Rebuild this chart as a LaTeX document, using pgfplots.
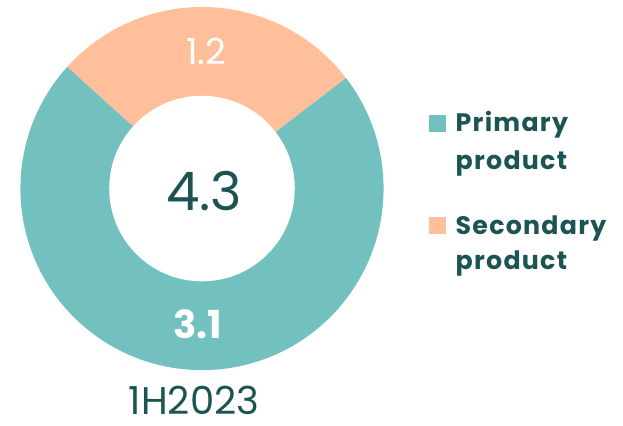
\documentclass[border=0pt]{standalone}
\usepackage{pgfplots}
\usepackage{pgfplotstable}
\pgfplotsset{compat=1.18}
\usepackage{fontspec}
\setmainfont{Poppins}
\newfontfamily\legfont{Poppins}[LetterSpace=5]
\definecolor{teal1}{HTML}{72C1BF}
\definecolor{peach}{HTML}{FFBF9B}
\definecolor{darktxt}{HTML}{1B5453}
\pgfplotstableread{
name value
Primary 3.1
Secondary 1.2
}\donutdata
\begin{document}
\begin{tikzpicture}
\pgfplotstablegetelem{0}{value}\of\donutdata \let\vA\pgfplotsretval
\pgfplotstablegetelem{1}{value}\of\donutdata \let\vB\pgfplotsretval
\pgfmathsetmacro{\tot}{\vA+\vB}
\pgfmathsetmacro{\aS}{37.5}
\pgfmathsetmacro{\aM}{\aS+360*\vB/\tot}
\pgfmathsetmacro{\aE}{\aS+360}
\begin{axis}[
  at={(0,0)}, anchor=south west,
  scale only axis, width=467.25pt, height=320.25pt,
  xmin=0, xmax=623, ymin=0, ymax=427,
  hide axis, clip=false]
\path (axis cs:0,0) rectangle (axis cs:623,427);
% donut
\fill[peach] (axis cs:201,238) -- ++(\aS:136.5pt) arc[start angle=\aS, end angle=\aM, radius=136.5pt] -- cycle;
\fill[teal1] (axis cs:201,238) -- ++(\aM:136.5pt) arc[start angle=\aM, end angle=\aE, radius=136.5pt] -- cycle;
\fill[white] (axis cs:201,238) circle[radius=69.75pt];
% labels
\node[white, font=\fontsize{27}{30}\selectfont] at (axis cs:205,375) {\pgfmathprintnumber[fixed,fixed zerofill,precision=1,assume math mode=true]{\vB}};
\node[white, font=\fontsize{29}{32}\selectfont\bfseries] at (axis cs:197,102) {\pgfmathprintnumber[fixed,fixed zerofill,precision=1,assume math mode=true]{\vA}};
\node[darktxt, font=\fontsize{40}{44}\selectfont] at (axis cs:203,235) {\pgfmathprintnumber[fixed,fixed zerofill,precision=1,assume math mode=true]{\tot}};
\node[darktxt, font=\fontsize{29}{32}\selectfont, inner sep=0pt] at (axis cs:193,26) {1H2023};
% legend
\fill[teal1] (axis cs:429,295) rectangle (axis cs:446,312);
\fill[peach] (axis cs:429,192) rectangle (axis cs:446,209);
\node[darktxt, anchor=base west, inner sep=0pt, font=\fontsize{19}{21}\legfont\bfseries] at (axis cs:455,295) {Primary};
\node[darktxt, anchor=base west, inner sep=0pt, font=\fontsize{19}{21}\legfont\bfseries] at (axis cs:455,257) {product};
\node[darktxt, anchor=base west, inner sep=0pt, font=\fontsize{19}{21}\legfont\bfseries] at (axis cs:455,192) {Secondary};
\node[darktxt, anchor=base west, inner sep=0pt, font=\fontsize{19}{21}\legfont\bfseries] at (axis cs:455,157) {product};
\end{axis}
\end{tikzpicture}
\end{document}
